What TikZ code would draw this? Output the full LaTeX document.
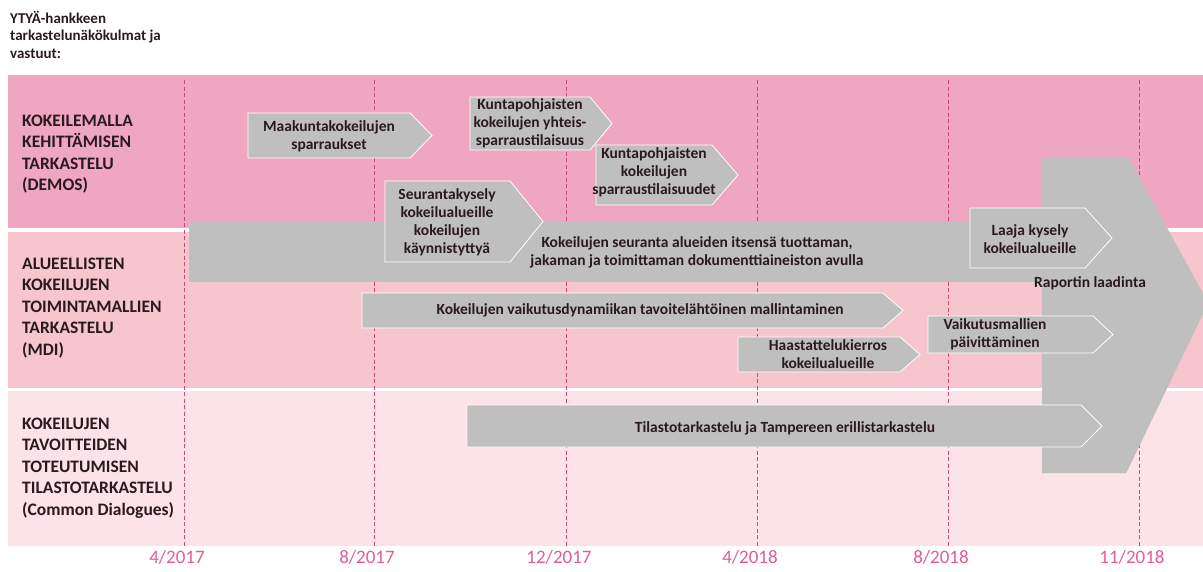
\documentclass[tikz,border=0pt]{standalone}
\usepackage{fontspec}
\setmainfont{Carlito}
\definecolor{bandA}{HTML}{EFA6C1}
\definecolor{bandB}{HTML}{F6C5CD}
\definecolor{bandC}{HTML}{FCE3E8}
\definecolor{arrgray}{HTML}{BFBFBF}
\definecolor{txtcol}{HTML}{2A1A20}
\definecolor{dashcol}{HTML}{C8497D}
\definecolor{datecol}{HTML}{E25C9C}
\newcommand\arrowshape[8]{%
  \filldraw[arr] (#2,#3) -- (#4,#3) -- (#6,{(#3+#5)/2}) -- (#4,#5) -- (#2,#5) -- cycle;
  \node[txt] (#1) at (#7) {#8};}
\begin{document}
\begin{tikzpicture}[x=1pt,y=-1pt,
  arr/.style={fill=arrgray, draw=white, line width=0.8pt},
  txt/.style={font=\fontsize{15.5}{18}\selectfont\bfseries, text=txtcol, align=center, inner sep=0pt},
  rowlbl/.style={font=\fontsize{17.5}{21.5}\selectfont\bfseries, text=txtcol, align=left, anchor=west, inner sep=0pt},
  datelbl/.style={font=\fontsize{19}{20}\selectfont, text=datecol, inner sep=0pt},
  vline/.style={dashcol, line width=0.8pt, dash pattern=on 4pt off 2.5pt}]
\useasboundingbox (0,0) rectangle (1203,571);
\clip (0,0) rectangle (1203,571);
\fill[white] (0,0) rectangle (1203,571);
% bands
\fill[bandA] (8,75) rectangle (1203,228);
\fill[bandB] (8,232) rectangle (1203,388);
\fill[bandC] (8,391) rectangle (1203,546);
% title
\node[font=\fontsize{15}{17.5}\selectfont\bfseries, text=txtcol, align=left, anchor=north west, inner sep=0pt] (title) at (10,11) {YTYÄ-hankkeen\\tarkastelunäkökulmat ja\\vastuut:};
% row labels
\node[rowlbl] (r1) at (22,154) {KOKEILEMALLA\\KEHITTÄMISEN\\TARKASTELU\\(DEMOS)};
\node[rowlbl] (r2) at (22,308) {ALUEELLISTEN\\KOKEILUJEN\\TOIMINTAMALLIEN\\TARKASTELU\\(MDI)};
\node[rowlbl] (r3) at (22,468) {KOKEILUJEN\\TAVOITTEIDEN\\TOTEUTUMISEN\\TILASTOTARKASTELU\\(Common Dialogues)};
% dashed time lines and dates
\foreach \x/\d/\n in {184/4\slash 2017/a,374/8\slash 2017/b,566/12\slash 2017/c,757/4\slash 2018/d,948/8\slash 2018/e,1139/11\slash 2018/f}{
  \coordinate (top\n) at (\x,80);
  \coordinate (bot\n) at (\x,546);
  \draw[vline] (top\n) -- (bot\n);
  \node[datelbl] (date\n) at (\x-7,557) {\d};
}
% shapes
\fill[arrgray] (189,222) rectangle (1060,282);
\node[txt] (seuranta) at (697,252) {Kokeilujen seuranta alueiden itsensä tuottaman,\\jakaman ja toimittaman dokumenttiaineiston avulla};
\filldraw[arrgray] (1042,157) -- (1128,157) -- (1208,303) -- (1126,473) -- (1042,473) -- cycle;
\node[txt] (raportti) at (1090,283) {Raportin laadinta};
\arrowshape{maakunta}{248}{113}{410}{158}{432}{329,136}{Maakuntakokeilujen\\sparraukset}
\arrowshape{yhteis}{470}{97}{590}{150}{612}{530,123}{Kuntapohjaisten\\kokeilujen yhteis-\\sparraustilaisuus}
\arrowshape{sparraus}{596}{145}{712}{205}{738}{654,172}{Kuntapohjaisten\\kokeilujen\\sparraustilaisuudet}
\arrowshape{kysely}{385}{181}{510}{262}{543}{447,222}{Seurantakysely\\kokeilualueille\\kokeilujen\\käynnistyttyä}
\arrowshape{laaja}{970}{208}{1085}{268}{1112}{1030,239}{Laaja kysely\\kokeilualueille}
\arrowshape{mallinnus}{362}{293}{883}{328}{903}{640,310}{Kokeilujen vaikutusdynamiikan tavoitelähtöinen mallintaminen}
\arrowshape{haastattelu}{738}{337}{900}{372}{920}{828,354}{Haastattelukierros\\kokeilualueille}
\arrowshape{paivitys}{928}{316}{1093}{353}{1113}{995,334}{Vaikutusmallien\\päivittäminen}
\arrowshape{tilasto}{467}{405}{1081}{447}{1102}{785,428}{Tilastotarkastelu ja Tampereen erillistarkastelu}
\end{tikzpicture}
\end{document}
